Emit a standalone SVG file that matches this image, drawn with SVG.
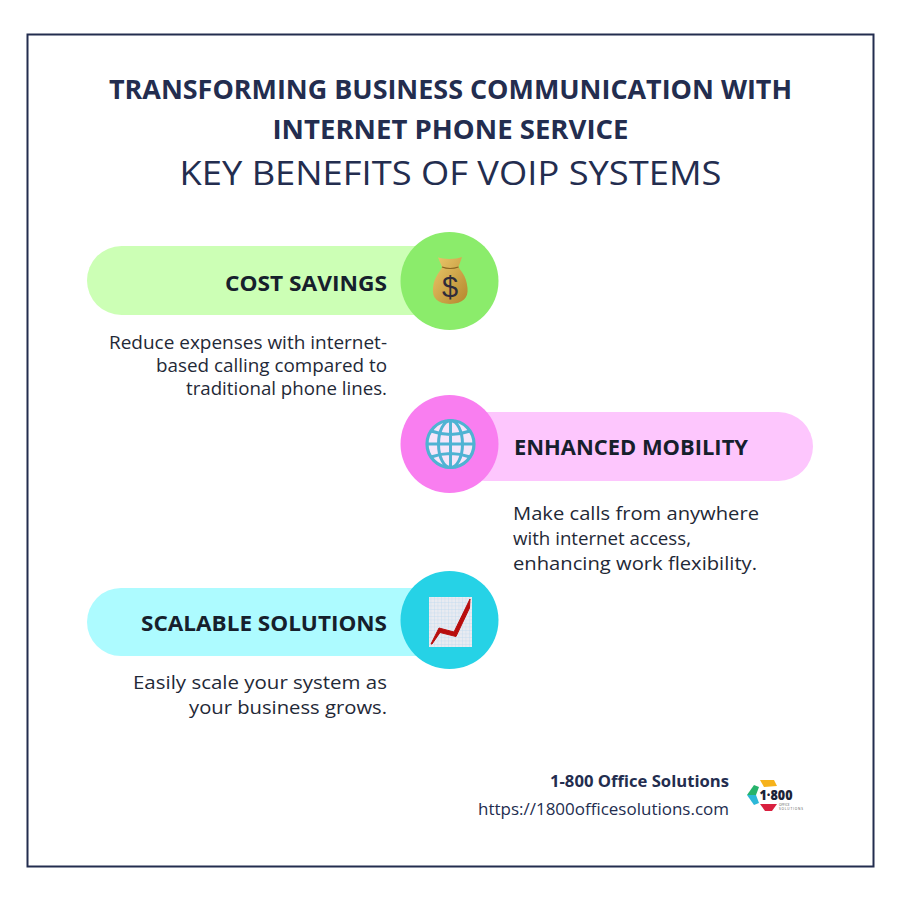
<svg xmlns="http://www.w3.org/2000/svg" width="900" height="900" viewBox="0 0 900 900">
<defs>
<linearGradient id="bag" x1="0" y1="0" x2="1" y2="1"><stop offset="0" stop-color="#ecc96c"/><stop offset="1" stop-color="#b4862c"/></linearGradient>
<pattern id="grid" width="3.500" height="3.500" patternUnits="userSpaceOnUse"><rect width="3.500" height="3.500" fill="#e9ebf1"/><path d="M0 0H3.500M0 0V3.500" stroke="#bcd8ee" stroke-width=".7"/></pattern>
</defs>
<style>
text{font-family:"Open Sans","Noto Sans","Liberation Sans",sans-serif;fill:#232d4f}
.t{font-size:27px;font-weight:700;text-anchor:middle}
.h{font-size:22px;font-weight:700;fill:#16202c}
.b{font-size:18.500px;fill:#1f2937}
.end{text-anchor:end}
</style>
<rect width="900" height="900" fill="#fff"/>
<rect x="27.500" y="34.500" width="846" height="832" fill="#fff" stroke="#232d4f" stroke-width="2"/>
<g id="title">
<text class="t" x="450.500" y="99" textLength="683" lengthAdjust="spacingAndGlyphs">TRANSFORMING BUSINESS COMMUNICATION WITH</text>
<text class="t" x="450.500" y="139" textLength="356" lengthAdjust="spacingAndGlyphs">INTERNET PHONE SERVICE</text>
<text x="450.500" y="185" text-anchor="middle" font-size="33" textLength="542" lengthAdjust="spacingAndGlyphs">KEY BENEFITS OF VOIP SYSTEMS</text>
</g>
<g id="connectors"></g>
<g id="node-cost">
<rect x="87" y="246" width="363" height="69" rx="34.500" fill="#ccffb5"/>
<circle cx="449.500" cy="281" r="49" fill="#8bec6b"/>
<path d="M438 257.500C444 259.500 456 259.500 462 257L458.500 267C460 270.500 466.500 275 467.500 288C468.500 298 463 303.500 450 304C437 303.500 432 298 433 288C434 276 441 271 442 267Z" fill="url(#bag)"/>
<path d="M442 267Q450 270 458.500 267" fill="none" stroke="#8a6420" stroke-width="1.200"/>
<text x="450" y="297" text-anchor="middle" font-size="29" style="font-family:'Liberation Sans',sans-serif;fill:#2f2c3a">$</text>
<text class="h end" x="387" y="291" textLength="162" lengthAdjust="spacingAndGlyphs">COST SAVINGS</text>
<text class="b end" x="387" y="349" textLength="278" lengthAdjust="spacingAndGlyphs">Reduce expenses with internet-</text>
<text class="b end" x="387" y="372" textLength="231" lengthAdjust="spacingAndGlyphs">based calling compared to</text>
<text class="b end" x="387" y="395" textLength="201" lengthAdjust="spacingAndGlyphs">traditional phone lines.</text>
</g>
<g id="node-mobility">
<rect x="450" y="412" width="363" height="69" rx="34.500" fill="#fdc6fd"/>
<circle cx="449.500" cy="444" r="49" fill="#f97ef0"/>
<circle cx="450.500" cy="444" r="23.500" fill="#f6e6fa" stroke="#4fb3d3" stroke-width="3.200"/>
<g fill="none" stroke="#4fb3d3" stroke-width="3">
<ellipse cx="450.500" cy="444" rx="12" ry="23.500"/>
<path d="M450.500 420.500V467.500M427 444H474M431 431Q450.500 438 470 431M431 457Q450.500 450 470 457"/>
</g>
<text class="h" x="514" y="455" textLength="234" lengthAdjust="spacingAndGlyphs">ENHANCED MOBILITY</text>
<text class="b" x="513" y="520" textLength="246" lengthAdjust="spacingAndGlyphs">Make calls from anywhere</text>
<text class="b" x="513" y="545" textLength="178" lengthAdjust="spacingAndGlyphs">with internet access,</text>
<text class="b" x="513" y="570" textLength="244" lengthAdjust="spacingAndGlyphs">enhancing work flexibility.</text>
</g>
<g id="node-scalable">
<rect x="87" y="588" width="363" height="68" rx="34" fill="#adfbff"/>
<circle cx="449.500" cy="620" r="49" fill="#26d2e6"/>
<rect x="429" y="597" width="43" height="50" fill="url(#grid)"/>
<path d="M431 644L439 628L454 632L470 599L469.500 608L456 636.500L440 632.500L432 644Z" fill="#b80d0d" stroke="#b80d0d" stroke-width="1"/>
<text class="h end" x="387" y="631" textLength="246" lengthAdjust="spacingAndGlyphs">SCALABLE SOLUTIONS</text>
<text class="b end" x="387" y="689" textLength="254" lengthAdjust="spacingAndGlyphs">Easily scale your system as</text>
<text class="b end" x="387" y="714" textLength="198" lengthAdjust="spacingAndGlyphs">your business grows.</text>
</g>
<g id="footer">
<text class="end" x="729" y="787" font-size="16" font-weight="700" textLength="179" lengthAdjust="spacingAndGlyphs">1-800 Office Solutions</text>
<text class="end" x="729" y="815" font-size="16.500" textLength="251" lengthAdjust="spacingAndGlyphs">https://1800officesolutions.com</text>
</g>
<g id="logo">
<path d="M760 780H774L777 786L764 787Z" fill="#f6b21b"/>
<path d="M754 785L759 787L756 795H747Z" fill="#26b36b"/>
<path d="M747 795H756L759 803L754 805Z" fill="#2cb8d8"/>
<path d="M760 804H777L772 811H765Z" fill="#d9203f"/>
<text x="776" y="800" text-anchor="middle" font-size="14" font-weight="800" textLength="33" lengthAdjust="spacingAndGlyphs" style="fill:#1a2338">1·800</text>
<text x="779" y="805.500" font-size="3.200" style="fill:#555">OFFICE</text>
<text x="779" y="809.500" font-size="3.200" textLength="24" style="fill:#555">SOLUTIONS</text>
</g>
</svg>
